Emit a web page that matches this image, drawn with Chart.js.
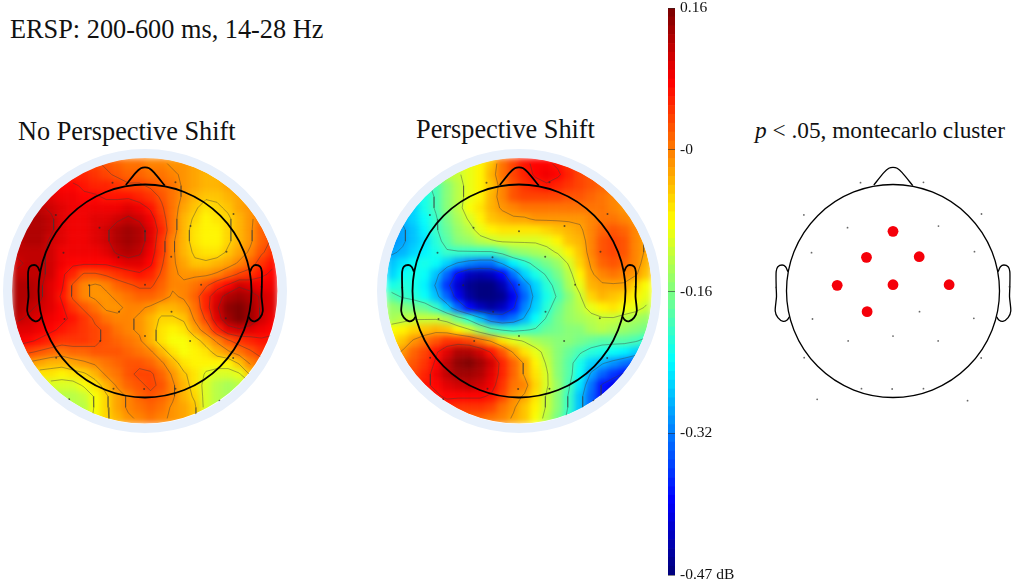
<!DOCTYPE html>
<html>
<head>
<meta charset="utf-8">
<title>ERSP topography</title>
<script src="https://cdn.jsdelivr.net/npm/chart.js@4/dist/chart.umd.min.js"></script>
<style>
    html, body { margin: 0; padding: 0; background: #fff; overflow: hidden; width: 1013px; height: 583px; }
    canvas { position: absolute; display: block; }
    .heat { filter: blur(3px); clip-path: circle(133px at 145px 145px); }
    .label { position: absolute; font-family: "Liberation Serif", serif; color: #111; white-space: nowrap; line-height: 1; }
</style>
</head>
<body>
<div class="label" style="left:10px;top:17px;font-size:26.3px">ERSP: 200-600 ms, 14-28 Hz</div>
<div class="label" style="left:18px;top:119px;font-size:26.3px">No Perspective Shift</div>
<div class="label" style="left:416px;top:117px;font-size:26.3px">Perspective Shift</div>
<div class="label" style="left:755px;top:119px;font-size:23.3px"><i>p</i> &lt; .05, montecarlo cluster</div>

<canvas id="heatLeft" class="heat" width="290" height="290" style="left:-0.5px;top:145.5px"></canvas>
<canvas id="headLeft" width="290" height="290" style="left:-0.5px;top:145.5px"></canvas>
<canvas id="heatRight" class="heat" width="290" height="290" style="left:374px;top:145.5px"></canvas>
<canvas id="headRight" width="290" height="290" style="left:374px;top:145.5px"></canvas>
<canvas id="colorBar" width="120" height="583" style="left:660px;top:0"></canvas>
<canvas id="headCluster" width="290" height="290" style="left:747.5px;top:146px"></canvas>

<script>
// Scalp power in hundredths of a dB, top row first
const noShiftRows = [
    [6,6,6,6,6,5,4,4,3,2,1,1,0,0,-1,-1,-2,-2,-2,-2,-1,-1,0,0],
    [8,8,8,8,7,6,6,5,4,3,2,2,1,1,0,-1,-2,-3,-3,-2,-1,0,0,1],
    [10,10,10,9,8,8,7,6,6,5,4,4,3,2,1,-1,-2,-3,-3,-2,-1,0,1,1],
    [11,11,11,10,9,9,8,8,7,7,7,6,5,3,1,-1,-3,-4,-4,-3,-2,-1,1,2],
    [12,12,12,11,10,9,9,9,9,9,10,9,7,4,1,-2,-4,-6,-5,-4,-2,-1,1,2],
    [12,13,13,12,10,9,9,10,10,11,12,11,9,5,1,-3,-5,-7,-6,-5,-3,-1,1,3],
    [12,13,13,12,10,9,9,10,11,13,14,13,10,6,1,-3,-6,-7,-7,-5,-3,-1,2,4],
    [12,13,13,11,10,9,9,10,11,13,14,13,10,5,0,-3,-6,-7,-7,-5,-3,-1,2,4],
    [12,12,12,11,9,9,9,9,10,12,13,12,9,5,0,-3,-5,-6,-6,-4,-2,0,3,5],
    [11,12,12,11,9,8,8,8,8,9,10,10,8,4,0,-2,-4,-4,-3,-2,0,2,5,7],
    [12,12,12,11,8,6,3,3,4,5,6,7,6,3,0,-1,-1,-1,0,2,4,5,7,8],
    [13,13,12,10,8,3,0,-1,0,2,3,4,4,2,0,0,1,3,6,8,11,10,9,9],
    [13,13,12,10,7,3,0,-1,-1,0,1,2,2,1,-1,0,2,6,10,13,14,13,11,10],
    [13,12,11,10,8,5,3,1,-1,-1,0,0,-1,-3,-3,-2,1,6,11,15,16,14,11,10],
    [12,11,10,9,8,7,5,3,1,0,0,-1,-3,-5,-5,-4,0,4,10,14,16,14,11,9],
    [10,10,9,8,7,6,5,4,3,1,0,-1,-3,-6,-7,-6,-2,1,6,10,11,10,9,8],
    [9,8,7,6,5,5,5,4,3,2,1,0,-3,-6,-8,-8,-6,-3,0,3,5,6,7,7],
    [5,4,3,2,1,2,2,3,3,3,2,1,0,-3,-6,-8,-7,-6,-3,-1,1,3,5,5],
    [0,-1,-2,-3,-3,-2,-1,0,1,2,3,3,2,0,-3,-6,-7,-7,-7,-7,-4,0,2,2],
    [-4,-5,-6,-6,-7,-6,-5,-3,0,1,3,4,4,2,-1,-4,-6,-9,-10,-10,-9,-4,-1,-1],
    [-8,-9,-10,-10,-10,-10,-8,-6,-3,0,2,3,4,3,0,-3,-6,-10,-12,-13,-12,-10,-6,-5],
    [-11,-12,-12,-12,-12,-12,-11,-8,-5,-2,0,2,3,2,0,-3,-5,-10,-12,-13,-13,-12,-10,-9],
    [-12,-13,-13,-13,-13,-12,-12,-8,-5,-2,0,1,2,1,-1,-2,-4,-10,-12,-13,-13,-12,-11,-10],
    [-12,-13,-13,-13,-13,-12,-10,-8,-5,-3,-1,0,1,0,-1,-2,-4,-9,-11,-12,-12,-12,-12,-11]
];
const shiftRows = [
    [-10,-10,-10,-10,-10,-10,-10,-9,-7,-4,1,4,7,8,8,7,5,4,3,2,1,1,0,0],
    [-14,-14,-14,-14,-13,-12,-11,-9,-7,-3,1,4,6,8,9,8,6,4,3,2,2,1,1,0],
    [-20,-20,-20,-20,-19,-15,-12,-9,-7,-4,0,3,5,6,7,6,5,4,3,2,2,1,0,0],
    [-23,-23,-23,-22,-19,-15,-12,-9,-7,-3,0,3,4,4,4,4,3,3,2,1,0,-1,-2,-2],
    [-27,-27,-26,-22,-19,-15,-12,-8,-6,-3,-1,0,1,1,1,1,1,1,1,1,0,-1,-2,-2],
    [-29,-28,-26,-23,-20,-16,-13,-10,-7,-4,-3,-2,-2,-1,-1,-1,-1,-1,0,1,1,0,-1,-2],
    [-30,-29,-27,-24,-20,-17,-14,-12,-9,-7,-6,-6,-6,-6,-5,-4,-3,-2,0,2,3,2,0,-2],
    [-30,-29,-27,-25,-21,-18,-15,-14,-12,-11,-10,-10,-10,-10,-9,-7,-4,-3,0,3,4,3,0,-2],
    [-29,-28,-26,-24,-22,-20,-20,-20,-20,-20,-18,-15,-14,-13,-12,-10,-7,-4,0,3,4,3,0,-2],
    [-27,-25,-23,-22,-23,-26,-29,-31,-32,-32,-28,-24,-21,-18,-16,-14,-10,-5,-1,2,3,2,0,-3],
    [-26,-23,-22,-23,-27,-33,-39,-43,-44,-43,-39,-32,-26,-22,-19,-16,-12,-7,-2,0,1,0,-1,-4],
    [-22,-21,-22,-24,-29,-36,-42,-46,-47,-47,-44,-37,-31,-26,-21,-18,-13,-9,-3,-2,-2,-2,-5,-8],
    [-18,-20,-21,-23,-27,-33,-40,-45,-47,-47,-46,-40,-33,-27,-22,-19,-15,-11,-5,-3,-4,-5,-7,-9],
    [-14,-15,-16,-17,-20,-26,-33,-39,-43,-45,-43,-38,-31,-26,-21,-17,-14,-12,-9,-7,-6,-8,-9,-11],
    [-13,-12,-11,-11,-11,-13,-17,-21,-27,-32,-34,-32,-28,-23,-19,-16,-14,-13,-12,-11,-11,-12,-13,-14],
    [-8,-7,-5,-4,-3,-4,-7,-10,-14,-18,-20,-21,-20,-19,-17,-16,-15,-15,-13,-12,-13,-14,-15,-16],
    [-6,-4,-1,1,3,5,5,4,1,-2,-6,-9,-11,-13,-14,-15,-15,-16,-17,-18,-18,-18,-19,-21],
    [-3,-1,2,4,7,10,13,13,11,7,3,-2,-6,-9,-12,-15,-17,-19,-21,-22,-23,-24,-26,-28],
    [1,1,3,5,8,12,15,16,14,11,6,2,-2,-7,-11,-15,-18,-22,-26,-28,-30,-32,-34,-36],
    [3,3,4,6,9,12,14,14,13,10,6,2,-2,-6,-10,-15,-18,-23,-29,-33,-36,-38,-40,-42],
    [4,4,5,7,8,10,11,12,11,9,5,1,0,-5,-10,-14,-19,-25,-32,-38,-40,-42,-43,-44],
    [4,4,5,6,7,8,8,8,8,7,4,0,-2,-6,-11,-15,-20,-27,-33,-38,-40,-42,-43,-44],
    [3,4,5,6,6,6,5,5,5,4,1,-1,-4,-7,-11,-15,-20,-27,-33,-38,-40,-42,-43,-44],
    [2,3,4,5,5,4,3,2,2,1,0,-2,-4,-8,-12,-16,-21,-28,-34,-38,-40,-42,-43,-44]
];

// Contour levels, same units as the rows; offset so no level sits on a whole-number cell
const noShiftLevels = [-8.5, -4.5, -0.5, 3.5, 7.5, 11.5];
const shiftLevels = [-37.5, -28.5, -19.5, -10.5, -1.5, 7.5];

// Colour bar steps and ticks, dB
const barLevels = [
    0.16, 0.15, 0.14, 0.13, 0.12, 0.11, 0.10, 0.09, 0.08, 0.07, 0.06, 0.05, 0.04, 0.03, 0.02, 0.01,
    0, -0.01, -0.02, -0.03, -0.04, -0.05, -0.06, -0.07, -0.08, -0.09, -0.10, -0.11, -0.12, -0.13, -0.14, -0.15,
    -0.16, -0.17, -0.18, -0.19, -0.20, -0.21, -0.22, -0.23, -0.24, -0.25, -0.26, -0.27, -0.28, -0.29, -0.30, -0.31,
    -0.32, -0.33, -0.34, -0.35, -0.36, -0.37, -0.38, -0.39, -0.40, -0.41, -0.42, -0.43, -0.44, -0.45, -0.46, -0.47
];
// labels are rounded in the figure, the marks themselves are evenly spaced
const barTicks = [0.16, 0.0025, -0.155, -0.3125, -0.47];
const barTickLabels = ['0.16', '-0', '-0.16', '-0.32', '-0.47 dB'];

// Electrodes in head units (head radius = 1, nose up)
const electrodeX = [-0.305, 0.286, -0.837, 0.831, -0.427, 0.427, -0.765, 0.765, -1.097, 1.094, 0.249, -0.756, 0.759, 0, -0.421, 0.424, -0.834, 0.828, -0.296, -0.008, 0.286, -0.712, 0.7];
const electrodeY = [1.017, 1.02, 0.714, 0.723, 0.595, 0.61, 0.36, 0.369, 0.034, 0.041, -0.194, -0.263, -0.257, -0.423, -0.469, -0.469, -0.626, -0.629, -0.917, -0.92, -0.917, -1.017, -1.03];
const clusterX = [0, -0.249, 0.246, -0.524, 0, 0.527, -0.243];
const clusterY = [0.56, 0.316, 0.322, 0.053, 0.059, 0.059, -0.194];

// Head outline
const noseX = [-0.18, -0.086, -0.039, 0, 0.039, 0.086, 0.186];
const noseY = [0.995, 1.111, 1.152, 1.161, 1.152, 1.111, 0.989];
const earX = [-0.987, -1.009, -1.041, -1.081, -1.097, -1.097, -1.094, -1.106, -1.081, -1.031, -0.994, -0.972];
const earY = [0.182, 0.228, 0.244, 0.228, 0.182, 0.041, -0.053, -0.188, -0.25, -0.285, -0.272, -0.241];

const HEAD_PX = 106.5;
const BOX_PX = 290;
const CELL = 266 / 24 / HEAD_PX;
const EDGE = 133 / HEAD_PX;
const AXIS_MAX = BOX_PX / 2 / HEAD_PX;

const clampByte = (c) => Math.round(Math.max(0, Math.min(1, c)) * 255);

function jet(db) {
    const t = (db + 0.47) / 0.63;
    const r = 1.5 - Math.abs(4 * t - 3);
    const g = 1.5 - Math.abs(4 * t - 2);
    const b = 1.5 - Math.abs(4 * t - 1);
    return `rgb(${clampByte(r)},${clampByte(g)},${clampByte(b)})`;
}

const zip = (xs, ys) => xs.map((x, i) => ({ x, y: ys[i] }));

const cellX = (col) => (col + 0.5 - 12) * CELL;
const cellY = (row) => (12 - row - 0.5) * CELL;

function headScales() {
    return {
        x: { type: 'linear', display: false, min: -AXIS_MAX, max: AXIS_MAX },
        y: { type: 'linear', display: false, min: -AXIS_MAX, max: AXIS_MAX }
    };
}

function baseOptions() {
    return {
        responsive: false,
        animation: false,
        events: [],
        // big head and ring points must not shrink the plot area
        layout: { padding: 0, autoPadding: false },
        scales: headScales(),
        plugins: { legend: { display: false }, tooltip: { enabled: false } }
    };
}

function drawHeat(id, rows) {
    const cells = [];
    rows.forEach((row, r) => {
        row.forEach((v, c) => cells.push({ x: cellX(c), y: cellY(r), v }));
    });
    new Chart(document.getElementById(id), {
        type: 'scatter',
        data: {
            datasets: [{
                data: cells,
                pointStyle: 'rect',
                pointRadius: 8.1,
                borderWidth: 0,
                pointBorderWidth: 0,
                backgroundColor: (ctx) => jet(ctx.raw.v / 100)
            }]
        },
        options: baseOptions()
    });
}

// Marching squares over the value rows, returns one line with gaps
function contourPoints(rows, levels) {
    const points = [];
    const addSegment = (a, b) => {
        const mx = (a.x + b.x) / 2;
        const my = (a.y + b.y) / 2;
        if (mx * mx + my * my > EDGE * EDGE) return;
        points.push(a, b, { x: b.x, y: NaN });
    };
    levels.forEach((level) => {
        for (let r = 0; r < rows.length - 1; r++) {
            for (let c = 0; c < rows[r].length - 1; c++) {
                const tl = rows[r][c], tr = rows[r][c + 1], br = rows[r + 1][c + 1], bl = rows[r + 1][c];
                const cross = (a, b) => (level - a) / (b - a);
                const top = () => ({ x: cellX(c + cross(tl, tr)), y: cellY(r) });
                const bottom = () => ({ x: cellX(c + cross(bl, br)), y: cellY(r + 1) });
                const left = () => ({ x: cellX(c), y: cellY(r + cross(tl, bl)) });
                const right = () => ({ x: cellX(c + 1), y: cellY(r + cross(tr, br)) });
                const code = (tl >= level ? 8 : 0) + (tr >= level ? 4 : 0) + (br >= level ? 2 : 0) + (bl >= level ? 1 : 0);
                switch (code) {
                    case 1: case 14: addSegment(left(), bottom()); break;
                    case 2: case 13: addSegment(bottom(), right()); break;
                    case 3: case 12: addSegment(left(), right()); break;
                    case 4: case 11: addSegment(top(), right()); break;
                    case 6: case 9: addSegment(top(), bottom()); break;
                    case 7: case 8: addSegment(left(), top()); break;
                    case 5: addSegment(left(), top()); addSegment(bottom(), right()); break;
                    case 10: addSegment(top(), right()); addSegment(left(), bottom()); break;
                }
            }
        }
    });
    return points;
}

function outlineDatasets(lineWidth) {
    const line = (data) => ({
        data,
        showLine: true,
        tension: 0.25,
        pointRadius: 0,
        borderColor: '#000',
        borderWidth: lineWidth
    });
    return [
        line(zip(noseX, noseY)),
        line(zip(earX, earY)),
        line(zip(earX.map((x) => -x), earY)),
        {
            data: [{ x: 0, y: 0 }],
            pointRadius: HEAD_PX,
            pointBackgroundColor: 'rgba(0,0,0,0)',
            pointBorderColor: '#000',
            pointBorderWidth: lineWidth
        }
    ];
}

function electrodeDataset() {
    return {
        data: zip(electrodeX.concat(clusterX), electrodeY.concat(clusterY)),
        pointRadius: 1,
        pointBorderWidth: 0,
        pointBackgroundColor: 'rgba(40,40,40,0.7)'
    };
}

function drawHead(id, rows, levels) {
    new Chart(document.getElementById(id), {
        type: 'scatter',
        data: {
            datasets: [
                {
                    data: contourPoints(rows, levels),
                    showLine: true,
                    spanGaps: false,
                    pointRadius: 0,
                    borderColor: 'rgba(60,60,60,0.42)',
                    borderWidth: 1
                },
                electrodeDataset(),
                {
                    data: [{ x: 0, y: 0 }],
                    pointRadius: 137.5,
                    pointBackgroundColor: 'rgba(0,0,0,0)',
                    pointBorderColor: '#e8f0fb',
                    pointBorderWidth: 9
                },
                ...outlineDatasets(1.8)
            ].reverse()
        },
        options: baseOptions()
    });
}

function drawColorBar() {
    new Chart(document.getElementById('colorBar'), {
        type: 'bar',
        data: {
            labels: barLevels,
            datasets: [{
                data: barLevels.map(() => 1),
                backgroundColor: barLevels.map(jet),
                barPercentage: 1,
                categoryPercentage: 1,
                borderWidth: 0
            }]
        },
        options: {
            indexAxis: 'y',
            responsive: false,
            animation: false,
            events: [],
            layout: { padding: { left: 8, top: 8, bottom: 8, right: 0 }, autoPadding: false },
            scales: {
                x: { display: false, min: 0, max: 1 },
                y: { display: false, type: 'category' },
                y2: {
                    type: 'linear',
                    position: 'right',
                    offset: false,
                    min: -0.47,
                    max: 0.16,
                    border: { display: false },
                    grid: { color: 'rgba(40,40,40,0.55)', lineWidth: 1, z: 1, drawTicks: false, offset: false },
                    afterBuildTicks: (scale) => { scale.ticks = barTicks.map((value) => ({ value })); },
                    afterFit: (scale) => {
                        scale.width = 105;
                        scale.paddingTop = 0;
                        scale.paddingBottom = 0;
                    },
                    ticks: {
                        autoSkip: false,
                        padding: 5,
                        color: '#111',
                        font: { family: '"Liberation Serif", serif', size: 15.5 },
                        callback: (value) => barTickLabels[barTicks.indexOf(value)]
                    }
                }
            },
            plugins: { legend: { display: false }, tooltip: { enabled: false } }
        }
    });
}

function drawCluster() {
    new Chart(document.getElementById('headCluster'), {
        type: 'scatter',
        data: {
            datasets: [
                {
                    data: zip(clusterX, clusterY),
                    pointRadius: 5.4,
                    pointBorderWidth: 0,
                    pointBackgroundColor: '#f5000a'
                },
                {
                    data: zip(electrodeX, electrodeY),
                    pointRadius: 0.9,
                    pointBorderWidth: 0,
                    pointBackgroundColor: 'rgba(40,40,40,0.7)'
                },
                ...outlineDatasets(1.3)
            ]
        },
        options: baseOptions()
    });
}

drawHeat('heatLeft', noShiftRows);
drawHead('headLeft', noShiftRows, noShiftLevels);
drawHeat('heatRight', shiftRows);
drawHead('headRight', shiftRows, shiftLevels);
drawColorBar();
drawCluster();
</script>
</body>
</html>
